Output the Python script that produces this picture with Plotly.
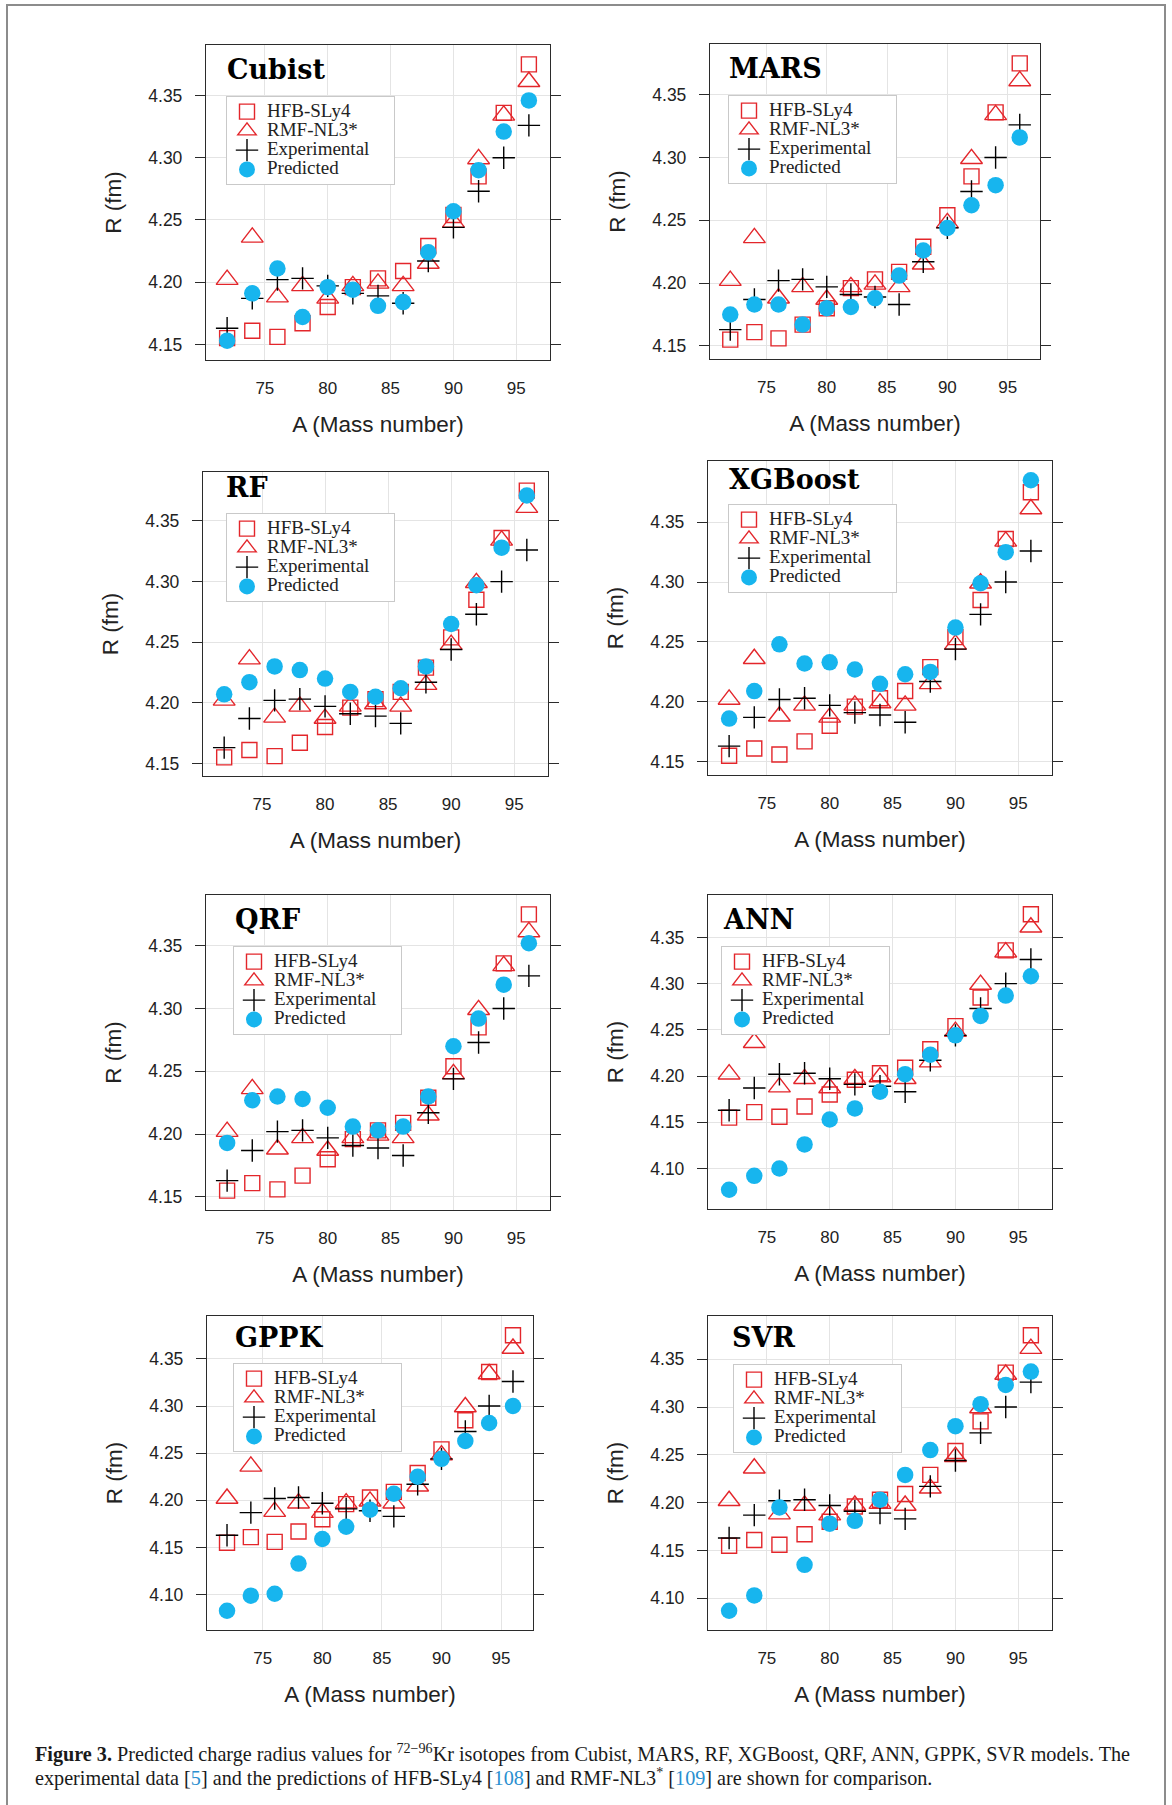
import plotly.graph_objects as go

W, H = 1172, 1805

# ---------------- data ----------------
mass_number = [72, 74, 76, 78, 80, 82, 84, 86, 88, 90, 92, 94, 96]

hfb_sly4 = [4.155, 4.161, 4.156, 4.167, 4.180, 4.196, 4.203, 4.209, 4.229, 4.254, 4.285, 4.336, 4.375]
rmf_nl3 = [4.202, 4.236, 4.188, 4.197, 4.187, 4.197, 4.199, 4.197, 4.215, 4.248, 4.299, 4.334, 4.361]
experimental = [4.163, 4.187, 4.202, 4.203, 4.197, 4.191, 4.189, 4.183, 4.217, 4.244, 4.273, 4.300, 4.326]

pred_cubist = [4.153, 4.191, 4.211, 4.172, 4.196, 4.194, 4.181, 4.184, 4.224, 4.257, 4.290, 4.321, 4.346]
pred_mars = [4.175, 4.183, 4.183, 4.167, 4.180, 4.181, 4.188, 4.206, 4.226, 4.244, 4.262, 4.278, 4.316]
pred_rf = [4.207, 4.217, 4.230, 4.227, 4.220, 4.209, 4.205, 4.212, 4.230, 4.265, 4.297, 4.328, 4.371]
pred_xgboost = [4.186, 4.209, 4.248, 4.232, 4.233, 4.227, 4.215, 4.223, 4.225, 4.262, 4.299, 4.325, 4.385]
pred_qrf = [4.193, 4.227, 4.230, 4.228, 4.221, 4.206, 4.203, 4.206, 4.230, 4.270, 4.292, 4.319, 4.352]
pred_ann = [4.077, 4.092, 4.100, 4.126, 4.153, 4.165, 4.183, 4.202, 4.223, 4.244, 4.265, 4.287, 4.308]
pred_gppk = [4.083, 4.099, 4.101, 4.133, 4.159, 4.172, 4.190, 4.207, 4.225, 4.244, 4.263, 4.282, 4.300]
pred_svr = [4.087, 4.103, 4.195, 4.135, 4.178, 4.181, 4.203, 4.229, 4.255, 4.280, 4.303, 4.323, 4.337]

model_names = ["Cubist", "MARS", "RF", "XGBoost", "QRF", "ANN", "GPPK", "SVR"]
predictions = [pred_cubist, pred_mars, pred_rf, pred_xgboost, pred_qrf, pred_ann, pred_gppk, pred_svr]

x_tick_vals = [75, 80, 85, 90, 95]
y_ticks_upper = [4.15, 4.20, 4.25, 4.30, 4.35]
y_ticks_lower = [4.10, 4.15, 4.20, 4.25, 4.30, 4.35]
y_tick_sets = [y_ticks_upper] * 5 + [y_ticks_lower] * 3

series_names = ["HFB-SLy4", "RMF-NL3*", "Experimental", "Predicted"]

# ---------------- layout (pixel geometry) ----------------
boxes = [(206, 550, 45, 360), (710, 1040, 44, 359),
         (203, 548, 472, 776), (708, 1052, 461, 775),
         (206, 550, 895, 1210), (708, 1052, 895, 1209),
         (207, 533, 1316, 1630), (708, 1052, 1316, 1630)]
legend_px = [(226, 96), (728, 95), (226, 513), (728, 504),
             (233, 946), (721, 946), (233, 1363), (733, 1364)]
title_px = [(225, 70), (727, 69), (224, 487), (727, 479),
            (233, 919), (721, 919), (233, 1337), (730, 1337)]

RED = "#e3262b"
BLUE = "#17b5ee"
DARK = "#2b2b2b"
GRID = "#e4e4e4"
SANS = "Liberation Sans, Arial, sans-serif"
SERIF = "Liberation Serif, Times New Roman, serif"
PAD = "\u00a0" * 4


def padded(lo, hi, frac=0.07):
    d = hi - lo
    return [lo - frac * d, hi + frac * d]


fig = go.Figure()
layout = dict(width=W, height=H, margin=dict(l=0, r=0, t=0, b=0),
              paper_bgcolor="white", plot_bgcolor="white", template="none",
              showlegend=True)
annotations = []

for i, (name, pred) in enumerate(zip(model_names, predictions)):
    k = i + 1
    xs = "" if k == 1 else str(k)
    lg = "legend" if k == 1 else "legend%d" % k
    xref, yref = "x" + xs, "y" + xs

    styles = [
        (hfb_sly4, dict(symbol="square-open", size=15, color=RED, line=dict(width=1.4, color=RED))),
        (rmf_nl3, dict(symbol="triangle-up-open", size=19, color=RED, line=dict(width=1.4, color=RED))),
        (experimental, dict(symbol="cross-thin-open", size=16, color="black", line=dict(width=1.4, color="black"))),
        (pred, dict(symbol="circle", size=16.5, color=BLUE, line=dict(width=0))),
    ]
    for sname, (vals, mk) in zip(series_names, styles):
        fig.add_trace(go.Scatter(x=mass_number, y=vals, mode="markers",
                                 name="<span style='font-size:19px'>%s%s</span>" % (sname, PAD),
                                 marker=mk, xaxis=xref, yaxis=yref, legend=lg,
                                 hovertemplate=sname + ": %{x}, %{y}<extra></extra>"))

    all_y = hfb_sly4 + rmf_nl3 + experimental + pred
    xr = padded(min(mass_number), max(mass_number))
    yr = padded(min(all_y), max(all_y))
    x0, x1, y0, y1 = boxes[i]
    xdom = [x0 / W, x1 / W]
    ydom = [1 - y1 / H, 1 - y0 / H]

    layout["xaxis" + xs] = dict(
        domain=xdom, anchor=yref, range=xr, tickvals=x_tick_vals, ticks="",
        showline=True, linecolor=DARK, linewidth=1.3, mirror=True,
        showgrid=True, gridcolor=GRID, gridwidth=1, zeroline=False,
        tickfont=dict(family=SANS, size=17, color="#222"), ticklabelstandoff=12,
        title=dict(text="A (Mass number)", font=dict(family=SANS, size=22.5, color="#222"), standoff=19),
        automargin=False)
    layout["xaxis%d" % (k + 8)] = dict(
        overlaying=xref, anchor=yref, side="top", range=xr, tickvals=x_tick_vals,
        ticks="outside", ticklen=12, tickwidth=1.3, tickcolor=DARK,
        showticklabels=False, showgrid=False, showline=False, zeroline=False,
        automargin=False)
    layout["yaxis" + xs] = dict(
        domain=ydom, anchor=xref, range=yr, tickvals=y_tick_sets[i], tickformat=".2f",
        ticks="outside", ticklen=10, tickwidth=1.3, tickcolor=DARK,
        showline=True, linecolor=DARK, linewidth=1.3, mirror="ticks",
        showgrid=True, gridcolor=GRID, gridwidth=1, zeroline=False,
        tickfont=dict(family=SANS, size=17.5, color="#222"), ticklabelstandoff=9,
        title=dict(text="R (fm)", font=dict(family=SANS, size=22.5, color="#222"), standoff=20),
        automargin=False)

    lx, ly = legend_px[i]
    layout[lg] = dict(x=lx / W, y=1 - ly / H, xanchor="left", yanchor="top",
                      xref="paper", yref="paper",
                      bgcolor="white", bordercolor="#c9c9c9", borderwidth=1,
                      font=dict(family=SERIF, size=12.5, color="#222"),
                      tracegroupgap=0, itemwidth=30)

    tx, ty = title_px[i]
    annotations.append(dict(text="<b>%s</b>" % name, x=tx / W, y=1 - ty / H,
                            xref="paper", yref="paper", xanchor="left", yanchor="middle",
                            showarrow=False, font=dict(family="DejaVu Serif", size=27, color="black")))

CITE = "#2a8fd0"
caption1 = ("<b>Figure 3.</b> Predicted charge radius values for <sup>72\u221296</sup>Kr isotopes "
            "from Cubist, MARS, RF, XGBoost, QRF, ANN, GPPK, SVR models. The")
caption2 = ("experimental data [<span style='color:%s'>5</span>] and the predictions of HFB-SLy4 "
            "[<span style='color:%s'>108</span>] and RMF-NL3<sup>*</sup> [<span style='color:%s'>109</span>] "
            "are shown for comparison.") % (CITE, CITE, CITE)
annotations.append(dict(text=caption1, x=33 / W, y=1 - 1753 / H, xref="paper", yref="paper",
                        xanchor="left", yanchor="middle", showarrow=False,
                        font=dict(family=SERIF, size=20.2, color="#1a1a1a")))
annotations.append(dict(text=caption2, x=33 / W, y=1 - 1777 / H, xref="paper", yref="paper",
                        xanchor="left", yanchor="middle", showarrow=False,
                        font=dict(family=SERIF, size=20.2, color="#1a1a1a")))

layout["annotations"] = annotations
layout["shapes"] = [dict(type="rect", xref="paper", yref="paper",
                         x0=7 / W, x1=1165 / W, y0=-0.01, y1=1 - 5 / H,
                         line=dict(color="#8c8c8c", width=2), fillcolor="rgba(0,0,0,0)", layer="below")]

fig.update_layout(**layout)
fig.write_html("out.html", config={"displayModeBar": False},
               post_script="document.body.style.margin='0px';")
